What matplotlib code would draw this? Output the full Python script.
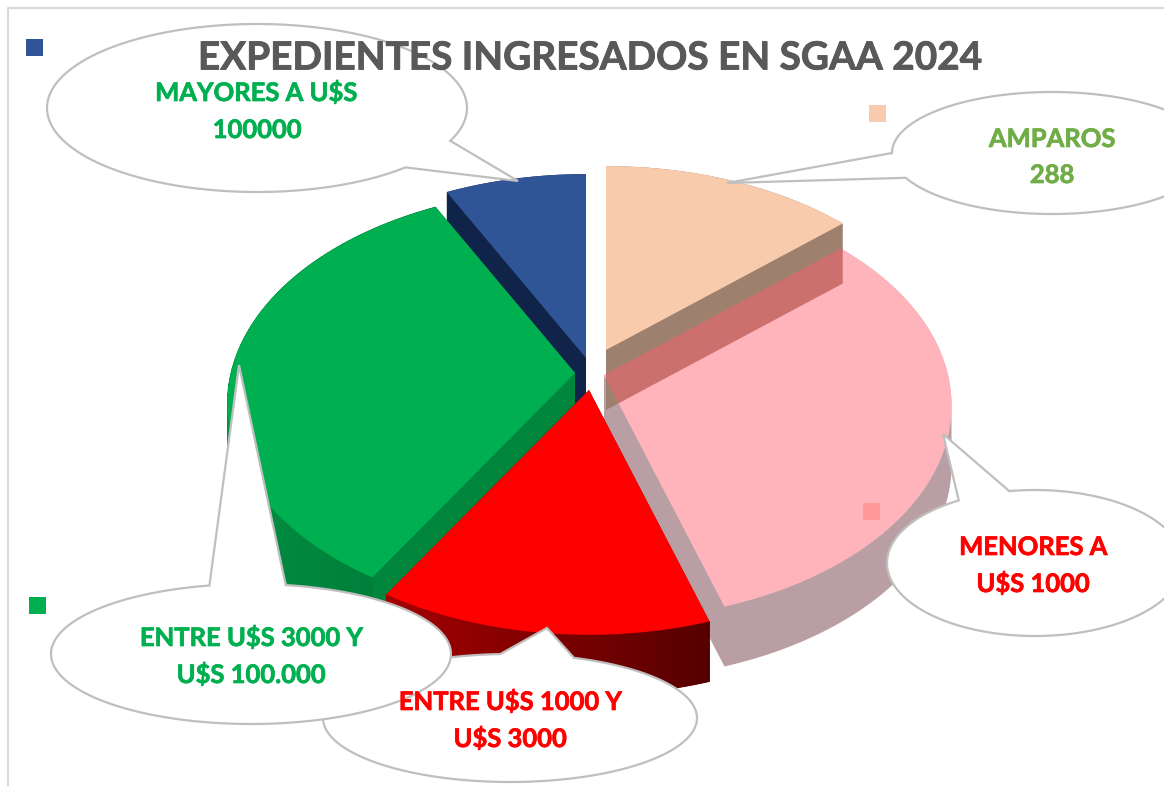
import numpy as np
import matplotlib
matplotlib.use('Agg')
import matplotlib.pyplot as plt
import matplotlib.patheffects as pe

categories = ['AMPAROS', 'MENORES A U$S 1000', 'ENTRE U$S 1000 Y U$S 3000',
              'ENTRE U$S 3000 Y U$S 100.000', 'MAYORES A U$S 100000']
values = [288, 670, 288, 718, 160]
top_colors = ['#F7CBAC', '#FF6070', '#FF0000', '#00B050', '#2F5597']

plt.rcParams['font.family'] = ['Lato', 'DejaVu Sans']

# 3D look of the pie
Rx, Ry, k, depth = 344.0, 210.0, 0.142, 60
apex = {0: (606, 350), 1: (604, 375), 2: (589, 390), 3: (575, 373), 4: (586, 358)}


def wedge(i, a1, a2):
    t = np.radians(np.linspace(a1, a2, 90))
    u = np.r_[0, np.cos(t)]
    v = np.r_[0, np.sin(t)]
    w = 1 + k * v
    return np.c_[apex[i][0] + Rx * u / w, apex[i][1] - Ry * v / w]


def hull(pts):
    pts = sorted(map(tuple, pts))

    def half(seq):
        out = []
        for p in seq:
            while len(out) > 1 and ((out[-1][0] - out[-2][0]) * (p[1] - out[-2][1])
                                    - (out[-1][1] - out[-2][1]) * (p[0] - out[-2][0])) <= 0:
                out.pop()
            out.append(p)
        return out[:-1]
    return np.array(half(pts) + half(pts[::-1]))


def side(ax, poly, color, alpha=1.0, z=1, grad=None):
    h = hull(np.r_[poly, poly + [0, depth]])
    ax.fill(h[:, 0], h[:, 1], color=color, alpha=alpha, lw=0, zorder=z)
    if grad is not None:
        # outer rim gets a left to right shade
        c1, c2 = np.array(grad[0]), np.array(grad[1])
        arc = poly[1:]
        x0, x1 = arc[:, 0].min(), arc[:, 0].max()
        for a, b in zip(arc[:-1], arc[1:]):
            f = ((a[0] + b[0]) / 2 - x0) / (x1 - x0)
            c = (c1 + (c2 - c1) * f) / 255
            ax.fill([a[0], b[0], b[0], a[0]], [a[1], b[1], b[1] + depth, a[1] + depth],
                    color=c, ec=c, lw=0.6, zorder=z)


def callout(ax, cx, cy, a, b, t1, t2, tip, z):
    # ellipse with a gap from t1 to t2 that goes out to the tip
    t = np.radians(np.linspace(t2, t1 + 360, 200))
    x = np.r_[cx + a * np.cos(t), tip[0]]
    y = np.r_[cy - b * np.sin(t), tip[1]]
    ax.fill(x, y, fc='white', ec='#BFBFBF', lw=1.6, zorder=z, joinstyle='miter')


fig = plt.figure(figsize=(11.64, 7.86), dpi=100)
ax = fig.add_axes([0, 0, 1, 1])
ax.set_xlim(0, 1164)
ax.set_ylim(786, 0)
ax.axis('off')

ax.plot([8, 8, 1170], [790, 8, 8], color='#D9D9D9', lw=1.5, zorder=0)

# clockwise from 12 o'clock like the office chart
ang = 90 - np.cumsum(np.r_[0, values]) / np.sum(values) * 360
polys = [wedge(i, ang[i], ang[i + 1]) for i in range(len(values))]

# blue and peach sit behind, the pink top is see-through over the peach side only
side(ax, polys[4], '#10244A', z=1)
ax.fill(*polys[4].T, color=top_colors[4], lw=0, zorder=2)
side(ax, polys[1], '#75414B', alpha=0.5, z=3)
ax.fill(*polys[1].T, color='white', lw=0, zorder=4)
side(ax, polys[0], '#9E806E', z=5)
ax.fill(*polys[0].T, color=top_colors[0], lw=0, zorder=6)
ax.fill(*polys[1].T, color=top_colors[1], alpha=0.48, lw=0, zorder=7)
side(ax, polys[3], '#00853C', z=8, grad=((0, 145, 65), (0, 118, 55)))
ax.fill(*polys[3].T, color=top_colors[3], lw=0, zorder=9)
side(ax, polys[2], '#8A0000', z=10, grad=((165, 0, 0), (85, 0, 0)))
ax.fill(*polys[2].T, color=top_colors[2], lw=0, zorder=11)

# legend keys left floating around the chart
keys = [(869, 105, '#F7CBAC'), (863, 503, '#FF9999'), (29, 597, '#00B050'), (26, 39, '#2F5597')]
for kx, ky, kc in keys:
    ax.add_patch(plt.Rectangle((kx, ky), 17, 17, color=kc, lw=0, zorder=12))

callout(ax, 257, 108, 210, 84, 315, 337, (518, 181), 20)
callout(ax, 1052, 153, 160, 61, 180, 204, (727, 183), 20)
callout(ax, 1035, 563, 148, 73, 100, 121, (943, 434), 20)
callout(ax, 510, 718, 187, 64, 70, 93, (547, 628), 20)
callout(ax, 251, 654, 200, 70, 80, 102, (239, 365), 21)

ax.text(590, 58, 'EXPEDIENTES INGRESADOS EN SGAA 2024', ha='center', va='center',
        fontsize=27.9, fontweight='bold', color='#595959', zorder=30,
        path_effects=[pe.withStroke(linewidth=0.6, foreground='#595959')])

labels = [(256, 101, 'MAYORES A U$S', '#00B050'), (257, 138, '100000', '#00B050'),
          (1052, 147, 'AMPAROS', '#70AD47'), (1052, 183, '288', '#70AD47'),
          (1033, 555, 'MENORES A', '#FF0000'), (1033, 592, 'U$S 1000', '#FF0000'),
          (510, 710, 'ENTRE U$S 1000 Y', '#FF0000'), (510, 747, 'U$S 3000', '#FF0000'),
          (251, 646, 'ENTRE U$S 3000 Y', '#00B050'), (251, 683, 'U$S 100.000', '#00B050')]
for lx, ly, txt, col in labels:
    ax.text(lx, ly, txt, ha='center', va='baseline', fontsize=18.4, fontweight='bold',
            color=col, zorder=30, path_effects=[pe.withStroke(linewidth=0.5, foreground=col)])

fig.savefig('out.png', dpi=100)
